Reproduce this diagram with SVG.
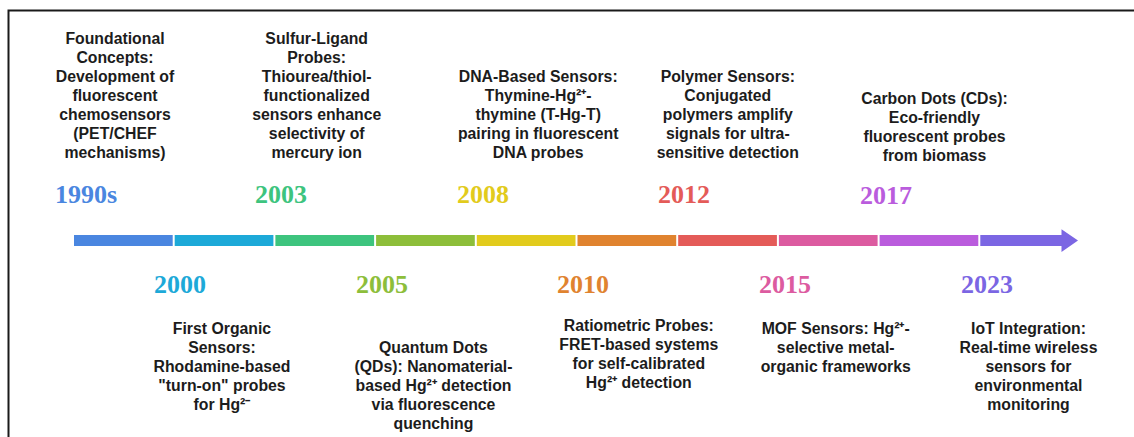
<svg xmlns="http://www.w3.org/2000/svg" width="1134" height="437" viewBox="0 0 1134 437">
<style>
.yr{font-family:"Liberation Serif","Times New Roman",serif;font-weight:bold;font-size:26px}
.d{font-family:"Liberation Sans",Arial,sans-serif;font-weight:bold;font-size:15.8px;fill:#1c1c1c;text-anchor:middle}
</style>
<rect width="1134" height="437" fill="#ffffff"/>
<path d="M8.5,437 V10.5 H1134" fill="none" stroke="#1a1a1a" stroke-width="2"/>
<g id="timeline">
<rect x="74" y="235" width="98.7" height="11" fill="#4A86E0"/>
<rect x="174.7" y="235" width="98.7" height="11" fill="#1DA9D8"/>
<rect x="275.4" y="235" width="98.7" height="11" fill="#3DC47E"/>
<rect x="376.1" y="235" width="98.7" height="11" fill="#8DBE3A"/>
<rect x="476.8" y="235" width="98.7" height="11" fill="#E2CB1C"/>
<rect x="577.5" y="235" width="98.7" height="11" fill="#E0832F"/>
<rect x="678.2" y="235" width="98.7" height="11" fill="#E45B58"/>
<rect x="778.9" y="235" width="98.7" height="11" fill="#DC5BA0"/>
<rect x="879.6" y="235" width="98.7" height="11" fill="#BA5CDD"/>
<path d="M980.3,235 H1061.5 V229.3 L1078,240.5 L1061.5,252 V246 H980.3 Z" fill="#7B66E3"/>
</g>
<g id="n1990">
<text class="yr" x="55" y="203" fill="#4A86E0">1990s</text>
<text class="d" x="115" y="44">Foundational<tspan x="115" dy="19">Concepts:</tspan><tspan x="115" dy="19">Development of</tspan><tspan x="115" dy="19">fluorescent</tspan><tspan x="115" dy="19">chemosensors</tspan><tspan x="115" dy="19">(PET/CHEF</tspan><tspan x="115" dy="19">mechanisms)</tspan></text>
</g>
<g id="n2000">
<text class="yr" x="154" y="293" fill="#1DA9D8">2000</text>
<text class="d" x="222" y="334">First Organic<tspan x="222" dy="19">Sensors:</tspan><tspan x="222" dy="19">Rhodamine-based</tspan><tspan x="222" dy="19">"turn-on" probes</tspan><tspan x="222" dy="19">for Hg²⁻</tspan></text>
</g>
<g id="n2003">
<text class="yr" x="255" y="203" fill="#3DC47E">2003</text>
<text class="d" x="316.7" y="44">Sulfur-Ligand<tspan x="316.7" dy="19">Probes:</tspan><tspan x="316.7" dy="19">Thiourea/thiol-</tspan><tspan x="316.7" dy="19">functionalized</tspan><tspan x="316.7" dy="19">sensors enhance</tspan><tspan x="316.7" dy="19">selectivity of</tspan><tspan x="316.7" dy="19">mercury ion</tspan></text>
</g>
<g id="n2005">
<text class="yr" x="356" y="293" fill="#8DBE3A">2005</text>
<text class="d" x="433.5" y="353">Quantum Dots<tspan x="433.5" dy="19">(QDs): Nanomaterial-</tspan><tspan x="433.5" dy="19">based Hg²⁺ detection</tspan><tspan x="433.5" dy="19">via fluorescence</tspan><tspan x="433.5" dy="19">quenching</tspan></text>
</g>
<g id="n2008">
<text class="yr" x="457" y="203" fill="#E2CB1C">2008</text>
<text class="d" x="538.2" y="82">DNA-Based Sensors:<tspan x="538.2" dy="19">Thymine-Hg²⁺-</tspan><tspan x="538.2" dy="19">thymine (T-Hg-T)</tspan><tspan x="538.2" dy="19">pairing in fluorescent</tspan><tspan x="538.2" dy="19">DNA probes</tspan></text>
</g>
<g id="n2010">
<text class="yr" x="557" y="293" fill="#E0832F">2010</text>
<text class="d" x="638.8" y="331">Ratiometric Probes:<tspan x="638.8" dy="19">FRET-based systems</tspan><tspan x="638.8" dy="19">for self-calibrated</tspan><tspan x="638.8" dy="19">Hg²⁺ detection</tspan></text>
</g>
<g id="n2012">
<text class="yr" x="658" y="203" fill="#E45B58">2012</text>
<text class="d" x="727.8" y="82">Polymer Sensors:<tspan x="727.8" dy="19">Conjugated</tspan><tspan x="727.8" dy="19">polymers amplify</tspan><tspan x="727.8" dy="19">signals for ultra-</tspan><tspan x="727.8" dy="19">sensitive detection</tspan></text>
</g>
<g id="n2015">
<text class="yr" x="759" y="293" fill="#DC5BA0">2015</text>
<text class="d" x="835.7" y="334">MOF Sensors: Hg²⁺-<tspan x="835.7" dy="19">selective metal-</tspan><tspan x="835.7" dy="19">organic frameworks</tspan></text>
</g>
<g id="n2017">
<text class="yr" x="860" y="204" fill="#BA5CDD">2017</text>
<text class="d" x="934.5" y="104">Carbon Dots (CDs):<tspan x="934.5" dy="19">Eco-friendly</tspan><tspan x="934.5" dy="19">fluorescent probes</tspan><tspan x="934.5" dy="19">from biomass</tspan></text>
</g>
<g id="n2023">
<text class="yr" x="961" y="293" fill="#7B66E3">2023</text>
<text class="d" x="1028.5" y="334">IoT Integration:<tspan x="1028.5" dy="19">Real-time wireless</tspan><tspan x="1028.5" dy="19">sensors for</tspan><tspan x="1028.5" dy="19">environmental</tspan><tspan x="1028.5" dy="19">monitoring</tspan></text>
</g>
</svg>
